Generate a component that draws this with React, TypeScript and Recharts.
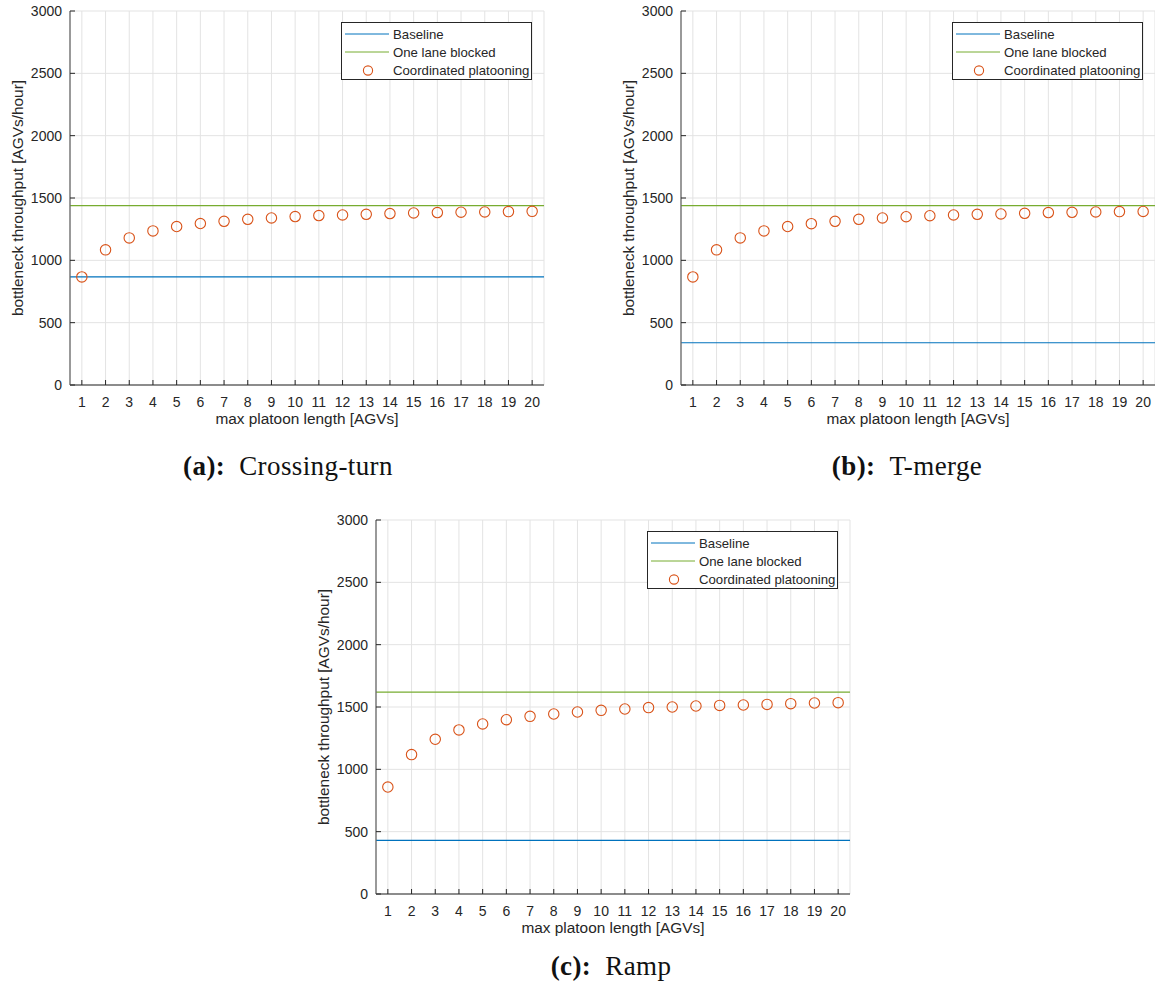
import React from 'react';
import { ComposedChart, Scatter, XAxis, YAxis, CartesianGrid, ReferenceLine } from 'recharts';

const platoonLengths = [1, 2, 3, 4, 5, 6, 7, 8, 9, 10, 11, 12, 13, 14, 15, 16, 17, 18, 19, 20];
const yTicks = [0, 500, 1000, 1500, 2000, 2500, 3000];

const crossingTurn = [867, 1084, 1180, 1236, 1271, 1295, 1313, 1329, 1340, 1351, 1359, 1364, 1369, 1375, 1380, 1383, 1386, 1388, 1391, 1393];
const tMerge = [867, 1084, 1180, 1236, 1271, 1294, 1313, 1329, 1340, 1350, 1358, 1364, 1369, 1372, 1377, 1383, 1385, 1388, 1391, 1392];
const ramp = [858, 1118, 1241, 1316, 1364, 1398, 1425, 1444, 1460, 1473, 1484, 1495, 1500, 1508, 1513, 1516, 1521, 1527, 1532, 1535];

const baselines = { a: 867, b: 339, c: 430 };
const blocked = { a: 1439, b: 1439, c: 1620 };

const BLUE = '#0072BD';
const GREEN = '#77AC30';
const ORANGE = '#D95319';
const TEXT = '#262626';
const AXIS = '#6a6a6a';
const SANS = "'Liberation Sans', Arial, sans-serif";

const PLOT_W = 474;
const PLOT_H = 374;
const Y_AXIS_W = 70;
const M_TOP = 11;

const Circle = (props: any) => {
  if (props.cx == null || props.cy == null) return null;
  return <circle cx={props.cx} cy={props.cy} r={5.2} fill="none" stroke={ORANGE} strokeWidth={1.1} />;
};

const Legend = ({ left, top }: { left: number; top: number }) => {
  const rows = [
    { label: 'Baseline', kind: 'line', color: BLUE, y: 12 },
    { label: 'One lane blocked', kind: 'line', color: GREEN, y: 30 },
    { label: 'Coordinated platooning', kind: 'circle', color: ORANGE, y: 48.5 },
  ];
  return (
    <div style={{ position: 'absolute', left, top, width: 191, height: 58, border: `1px solid ${TEXT}`, background: '#fff', boxSizing: 'border-box' }}>
      <svg width={189} height={56} style={{ position: 'absolute', left: 0, top: 0 }}>
        {rows.map((r) => (
          <g key={r.label}>
            {r.kind === 'line' ? (
              <line x1={3} x2={47} y1={r.y - 1} y2={r.y - 1} stroke={r.color} strokeWidth={1} />
            ) : (
              <circle cx={26} cy={r.y - 1} r={4.6} fill="none" stroke={r.color} strokeWidth={1.1} />
            )}
            <text x={51} y={r.y - 1} dy="0.35em" fontSize={13.2} fill={TEXT} fontFamily={SANS}>{r.label}</text>
          </g>
        ))}
      </svg>
    </div>
  );
};

type PanelProps = {
  plotLeft: number;
  plotTop: number;
  values: number[];
  baseline: number;
  blockedLevel: number;
  tag: string;
  name: string;
  captionX: number;
  captionY: number;
};

const Panel = ({ plotLeft, plotTop, values, baseline, blockedLevel, tag, name, captionX, captionY }: PanelProps) => {
  const data = platoonLengths.map((x, i) => ({ x, y: values[i] }));
  const chartW = Y_AXIS_W + PLOT_W + 6;
  const chartH = M_TOP + PLOT_H + 60;
  return (
    <>
      <div style={{ position: 'absolute', left: plotLeft - Y_AXIS_W, top: plotTop - M_TOP }}>
        <ComposedChart width={chartW} height={chartH} data={data} margin={{ top: M_TOP, right: 6, bottom: 10, left: 0 }}>
          <CartesianGrid stroke="#e3e3e3" strokeWidth={1} />
          <XAxis
            type="number"
            dataKey="x"
            domain={[0.5, 20.5]}
            ticks={platoonLengths}
            interval={0}
            height={50}
            allowDataOverflow
            tickSize={-5}
            tickMargin={17}
            axisLine={{ stroke: AXIS, strokeWidth: 1.3 }}
            tickLine={{ stroke: TEXT }}
            tick={{ fill: TEXT, fontSize: 14, fontFamily: SANS }}
            label={{ value: 'max platoon length [AGVs]', position: 'insideBottom', offset: 11, fill: TEXT, fontSize: 15.4, fontFamily: SANS }}
          />
          <YAxis
            type="number"
            domain={[0, 3000]}
            ticks={yTicks}
            width={Y_AXIS_W}
            allowDataOverflow
            tickSize={-5}
            tickMargin={13}
            axisLine={{ stroke: AXIS, strokeWidth: 1.3 }}
            tickLine={{ stroke: TEXT }}
            tick={{ fill: TEXT, fontSize: 14, fontFamily: SANS }}
            label={{ value: 'bottleneck throughput [AGVs/hour]', angle: -90, position: 'insideLeft', offset: 18, style: { textAnchor: 'middle' }, fill: TEXT, fontSize: 15.4, fontFamily: SANS }}
          />
          <ReferenceLine y={baseline} stroke={BLUE} strokeWidth={1.2} />
          <ReferenceLine y={blockedLevel} stroke={GREEN} strokeWidth={1.2} />
          <Scatter dataKey="y" shape={<Circle />} isAnimationActive={false} />
        </ComposedChart>
      </div>
      <Legend left={plotLeft + 271} top={plotTop + 11} />
      <div
        style={{
          position: 'absolute',
          left: captionX - 200,
          width: 400,
          top: captionY - 16,
          height: 32,
          lineHeight: '32px',
          textAlign: 'center',
          fontFamily: "'Liberation Serif', 'Times New Roman', serif",
          fontSize: 27,
          letterSpacing: 0.4,
          color: '#111',
          whiteSpace: 'nowrap',
        }}
      >
        <b>({tag}):</b>
        <span style={{ marginLeft: 14 }}>{name}</span>
      </div>
    </>
  );
};

export default function App() {
  return (
    <div style={{ position: 'absolute', left: 0, top: 0, width: 1155, height: 992, background: '#fff', overflow: 'hidden' }}>
      <Panel plotLeft={70} plotTop={11} values={crossingTurn} baseline={baselines.a} blockedLevel={blocked.a} tag="a" name="Crossing-turn" captionX={288} captionY={466} />
      <Panel plotLeft={681} plotTop={11} values={tMerge} baseline={baselines.b} blockedLevel={blocked.b} tag="b" name="T-merge" captionX={907} captionY={466} />
      <Panel plotLeft={376} plotTop={520} values={ramp} baseline={baselines.c} blockedLevel={blocked.c} tag="c" name="Ramp" captionX={611} captionY={966} />
    </div>
  );
}
